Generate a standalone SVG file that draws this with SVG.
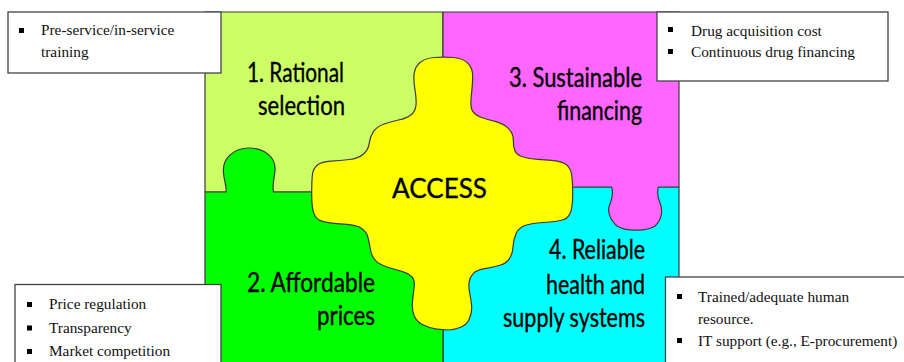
<svg xmlns="http://www.w3.org/2000/svg" width="904" height="362" viewBox="0 0 904 362">
<style>
.piece{stroke:#3a3a3a;stroke-width:1.2;stroke-linejoin:round}
.lbl{font-family:"Comic Sans MS","Lato",sans-serif;font-size:26px;fill:#000;stroke:#000;stroke-width:0.35}
.box{fill:#fff;stroke:#444;stroke-width:1.3}
.bt{font-family:"Liberation Serif","Times New Roman",serif;font-size:15.3px;fill:#111}
.bul{fill:#000}
</style>
<rect width="904" height="362" fill="#fff"/>
<g id="q1-rational-selection">
<rect class="piece" x="205" y="12" width="238" height="180" fill="#ccff66"/>
<text class="lbl" x="247" y="82" textLength="97" lengthAdjust="spacingAndGlyphs">1. Rational</text>
<text class="lbl" x="258" y="115" textLength="87" lengthAdjust="spacingAndGlyphs">selection</text>
</g>
<g id="q4-reliable-systems">
<rect class="piece" x="443" y="187" width="236" height="180" fill="#00ffff"/>
<text class="lbl" x="549" y="259" textLength="96" lengthAdjust="spacingAndGlyphs">4. Reliable</text>
<text class="lbl" x="546" y="294" textLength="99" lengthAdjust="spacingAndGlyphs">health and</text>
<text class="lbl" x="503" y="327" textLength="142" lengthAdjust="spacingAndGlyphs">supply systems</text>
</g>
<g id="q2-affordable-prices">
<path class="piece" fill="#00ff00" d="M205 192 H226 C227 186 224 181 223.5 173 C222 158 234 148 249 148 C264 148 276 157 275 170 C274.5 178 272 184 273.5 192 H443 V367 H205 Z"/>
<text class="lbl" x="247" y="292" textLength="128" lengthAdjust="spacingAndGlyphs">2. Affordable</text>
<text class="lbl" x="317" y="325" textLength="58" lengthAdjust="spacingAndGlyphs">prices</text>
</g>
<g id="q3-sustainable-financing">
<path class="piece" fill="#ff66ff" d="M443 12 H679 V187 H658.3 C657 192 657.5 197 660 203 C663 210 662 220 655 226 C648 231 626 232 617 226 C609 219 607 210 610 204 C612.5 198 613 192 611.7 187 H443 Z"/>
<text class="lbl" x="509" y="87" textLength="133" lengthAdjust="spacingAndGlyphs">3. Sustainable</text>
<text class="lbl" x="557" y="120" textLength="85" lengthAdjust="spacingAndGlyphs">financing</text>
</g>
<g id="access">
<path class="piece" fill="#ffff00" d="M434.2 57.5 Q443.3 56.7 453.3 57.5 Q463.3 58.3 468 63.3 Q472.7 68.3 472.7 75.8 Q472.7 83.3 471.4 95 Q470 106.7 472.5 110.9 Q475 115 480.9 117.2 Q486.7 119.3 495 121.3 Q503.3 123.3 508.3 128.3 Q513.3 133.3 513.3 140 Q513.3 146.7 515 150.9 Q516.7 155 523.4 157 Q530 159 545 159.9 Q560 160.7 565 163.7 Q570 166.7 571.4 173.4 Q572.7 180 572.7 193.4 Q572.7 206.7 570.5 212.5 Q568.3 218.3 562.5 220 Q556.7 221.7 543.4 222.5 Q530 223.3 524.2 225.8 Q518.3 228.3 515.8 234.2 Q513.3 240 513 246.7 Q512.7 253.3 509.7 258.3 Q506.7 263.3 500 265.3 Q493.3 267.3 485 268.7 Q476.7 270 473.4 273.4 Q470 276.7 469.2 281.7 Q468.3 286.7 470 295 Q471.7 303.3 471.7 308.3 Q471.7 313.3 469.2 319.2 Q466.7 325 460 327.5 Q453.3 330 448.3 330 Q443.3 330 436.7 329.2 Q430 328.3 423.4 325 Q416.7 321.7 414.2 315.9 Q411.7 310 412.5 301.7 Q413.3 293.3 414.2 286.7 Q415 280 411.7 276.7 Q408.3 273.3 402.5 271.7 Q396.7 270 388.4 267.5 Q380 265 375.9 260.9 Q371.7 256.7 370.5 250 Q369.3 243.3 368 237.5 Q366.7 231.7 361.7 228.4 Q356.7 225 343.4 224.2 Q330 223.3 323.4 221.7 Q316.7 220 314.2 214.2 Q311.7 208.3 311.7 194.2 Q311.7 180 312.5 174.2 Q313.3 168.3 317.5 165 Q321.7 161.7 330.9 161.2 Q340 160.7 349.2 159.5 Q358.3 158.3 363.3 154.2 Q368.3 150 369.2 143.4 Q370 136.7 373.4 131.7 Q376.7 126.7 383.4 124.2 Q390 121.7 398.4 120 Q406.7 118.3 410.9 115 Q415 111.7 415.9 105.9 Q416.7 100 415 90 Q413.3 80 414.2 73.4 Q415 66.7 420 62.5 Q425 58.3 434.2 57.5 Z"/>
<text class="lbl" x="392" y="198" font-size="28" textLength="95" lengthAdjust="spacingAndGlyphs">ACCESS</text>
</g>
<g id="box-training">
<rect class="box" x="8" y="12" width="213" height="61"/>
<rect class="bul" x="19" y="28" width="5" height="5"/>
<text class="bt" x="41" y="35">Pre-service/in-service</text>
<text class="bt" x="41" y="57">training</text>
</g>
<g id="box-financing">
<rect class="box" x="657" y="12" width="231" height="69"/>
<rect class="bul" x="668" y="27" width="5" height="5"/>
<rect class="bul" x="668" y="49" width="5" height="5"/>
<text class="bt" x="691" y="35.5">Drug acquisition cost</text>
<text class="bt" x="691" y="57">Continuous drug financing</text>
</g>
<g id="box-prices">
<rect class="box" x="15" y="284.5" width="206" height="90"/>
<rect class="bul" x="27" y="302" width="5" height="5"/>
<rect class="bul" x="27" y="325.5" width="5" height="5"/>
<rect class="bul" x="27" y="349" width="5" height="5"/>
<text class="bt" x="49" y="309">Price regulation</text>
<text class="bt" x="49" y="332.5">Transparency</text>
<text class="bt" x="49" y="356">Market competition</text>
</g>
<g id="box-systems">
<rect class="box" x="665.5" y="277" width="250" height="100"/>
<rect class="bul" x="677" y="294" width="5" height="5"/>
<rect class="bul" x="677" y="338" width="5" height="5"/>
<text class="bt" x="698" y="302">Trained/adequate human</text>
<text class="bt" x="698" y="323.5">resource.</text>
<text class="bt" x="698" y="346">IT support (e.g., E-procurement)</text>
</g>
</svg>
